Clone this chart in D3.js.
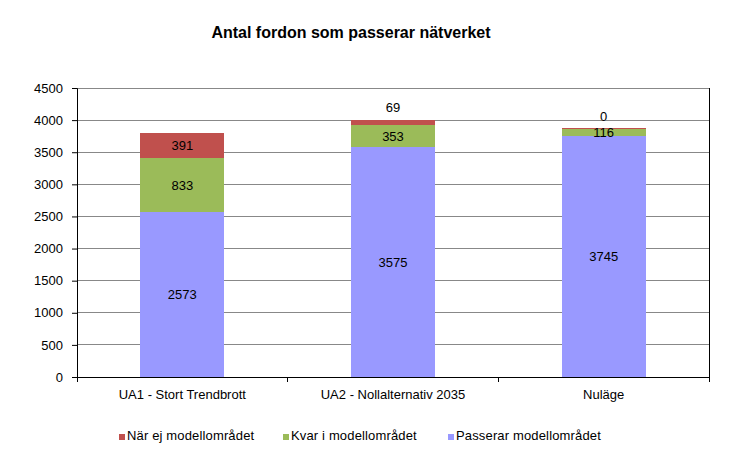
<!DOCTYPE html>
<html><head><meta charset="utf-8">
<script src="https://cdn.jsdelivr.net/npm/d3@7"></script>
<style>body{margin:0;background:#fff;}svg{display:block;font-family:"Liberation Sans",Arial,sans-serif;}</style>
</head><body>
<script>
const title = "Antal fordon som passerar nätverket";
const categories = ["UA1 - Stort Trendbrott", "UA2 - Nollalternativ 2035", "Nuläge"];
const seriesNames = ["Passerar modellområdet", "Kvar i modellområdet", "När ej modellområdet"];
const passerar = [2573, 3575, 3745];
const kvar = [833, 353, 116];
const narEj = [391, 69, 0];
const colors = ["#9999FF", "#9BBB59", "#C0504D"];
const yTicks = [0, 500, 1000, 1500, 2000, 2500, 3000, 3500, 4000, 4500];

const W = 753, H = 468;
const m = {left: 77, right: 44, top: 88, bottom: 91};
const FS = "13px";
const svg = d3.select("body").append("svg").attr("width", W).attr("height", H);

svg.append("text").attr("x", 351).attr("y", 38).attr("text-anchor", "middle")
  .attr("font-weight", "bold").attr("font-size", "16px").text(title);

const x = d3.scaleBand().domain(categories).range([m.left, W - m.right]).paddingInner(0.6).paddingOuter(0.3);
const xb = d3.scaleBand().domain(categories).range([m.left, W - m.right]);
const y = d3.scaleLinear().domain([0, 4500]).range([H - m.bottom, m.top]);

const g = svg.append("g");
g.selectAll("line.grid").data(yTicks.slice(1)).join("line")
  .attr("x1", m.left).attr("x2", W - m.right)
  .attr("y1", d => y(d)).attr("y2", d => y(d))
  .attr("stroke", "#888").attr("stroke-width", 1).attr("shape-rendering", "crispEdges");
g.append("line").attr("x1", W - m.right).attr("x2", W - m.right).attr("y1", m.top).attr("y2", H - m.bottom)
  .attr("stroke", "#000").attr("shape-rendering", "crispEdges");

const data = categories.map((c, i) => ({cat: c, vals: [passerar[i], kvar[i], narEj[i]]}));
const stack = d3.stack().keys([0, 1, 2]).value((d, k) => d.vals[k]);
const layers = stack(data);

layers.forEach((layer, k) => {
  g.selectAll(null).data(layer).join("rect")
    .attr("x", d => x(d.data.cat)).attr("width", x.bandwidth())
    .attr("y", d => y(d[1]) - (k === 2 && d[1] === d[0] ? 1 : 0))
    .attr("height", d => Math.max(y(d[0]) - y(d[1]), k === 2 ? 1 : 0))
    .attr("fill", colors[k]).attr("shape-rendering", "crispEdges");
});

const labelShift = {"2-1": -15, "2-2": -13};
layers.forEach((layer, k) => {
  g.selectAll(null).data(layer).join("text")
    .attr("x", d => x(d.data.cat) + x.bandwidth() / 2)
    .attr("y", (d, i) => y((d[0] + d[1]) / 2) + 4.5 + (labelShift[k + "-" + i] || 0))
    .attr("text-anchor", "middle").attr("font-size", FS).attr("fill", "#000")
    .text(d => d.data.vals[k]);
});

const yAxis = d3.axisLeft(y).tickValues(yTicks).tickSize(5).tickPadding(9).tickFormat(d3.format("d"));
const ya = svg.append("g").attr("transform", `translate(${m.left},0)`).call(yAxis);
ya.select(".domain").attr("stroke", "#000");
ya.selectAll("text").attr("font-size", FS).attr("font-family", "Liberation Sans, Arial, sans-serif").attr("fill", "#000");

const xa = svg.append("g").attr("transform", `translate(0,${H - m.bottom})`);
xa.append("line").attr("x1", m.left).attr("x2", W - m.right).attr("y1", 0).attr("y2", 0).attr("stroke", "#000").attr("shape-rendering", "crispEdges");
const sepTicks = categories.map(c => xb(c)).concat([W - m.right]);
xa.selectAll("line.t").data(sepTicks).join("line")
  .attr("x1", d => d).attr("x2", d => d).attr("y1", 0).attr("y2", 5)
  .attr("stroke", "#000").attr("shape-rendering", "crispEdges");
xa.selectAll("text").data(categories).join("text")
  .attr("x", d => xb(d) + xb.bandwidth() / 2).attr("y", 22)
  .attr("text-anchor", "middle").attr("font-size", FS).text(d => d);

const legendItems = [2, 1, 0];
const legendX = [119, 283, 448];
const lg = svg.append("g");
legendItems.forEach((k, i) => {
  lg.append("rect").attr("x", legendX[i]).attr("y", 434).attr("width", 6).attr("height", 6).attr("fill", colors[k]);
  lg.append("text").attr("x", legendX[i] + 8).attr("y", 440).attr("font-size", FS).attr("letter-spacing", "0.15px").text(seriesNames[k]);
});
</script>
</body></html>
